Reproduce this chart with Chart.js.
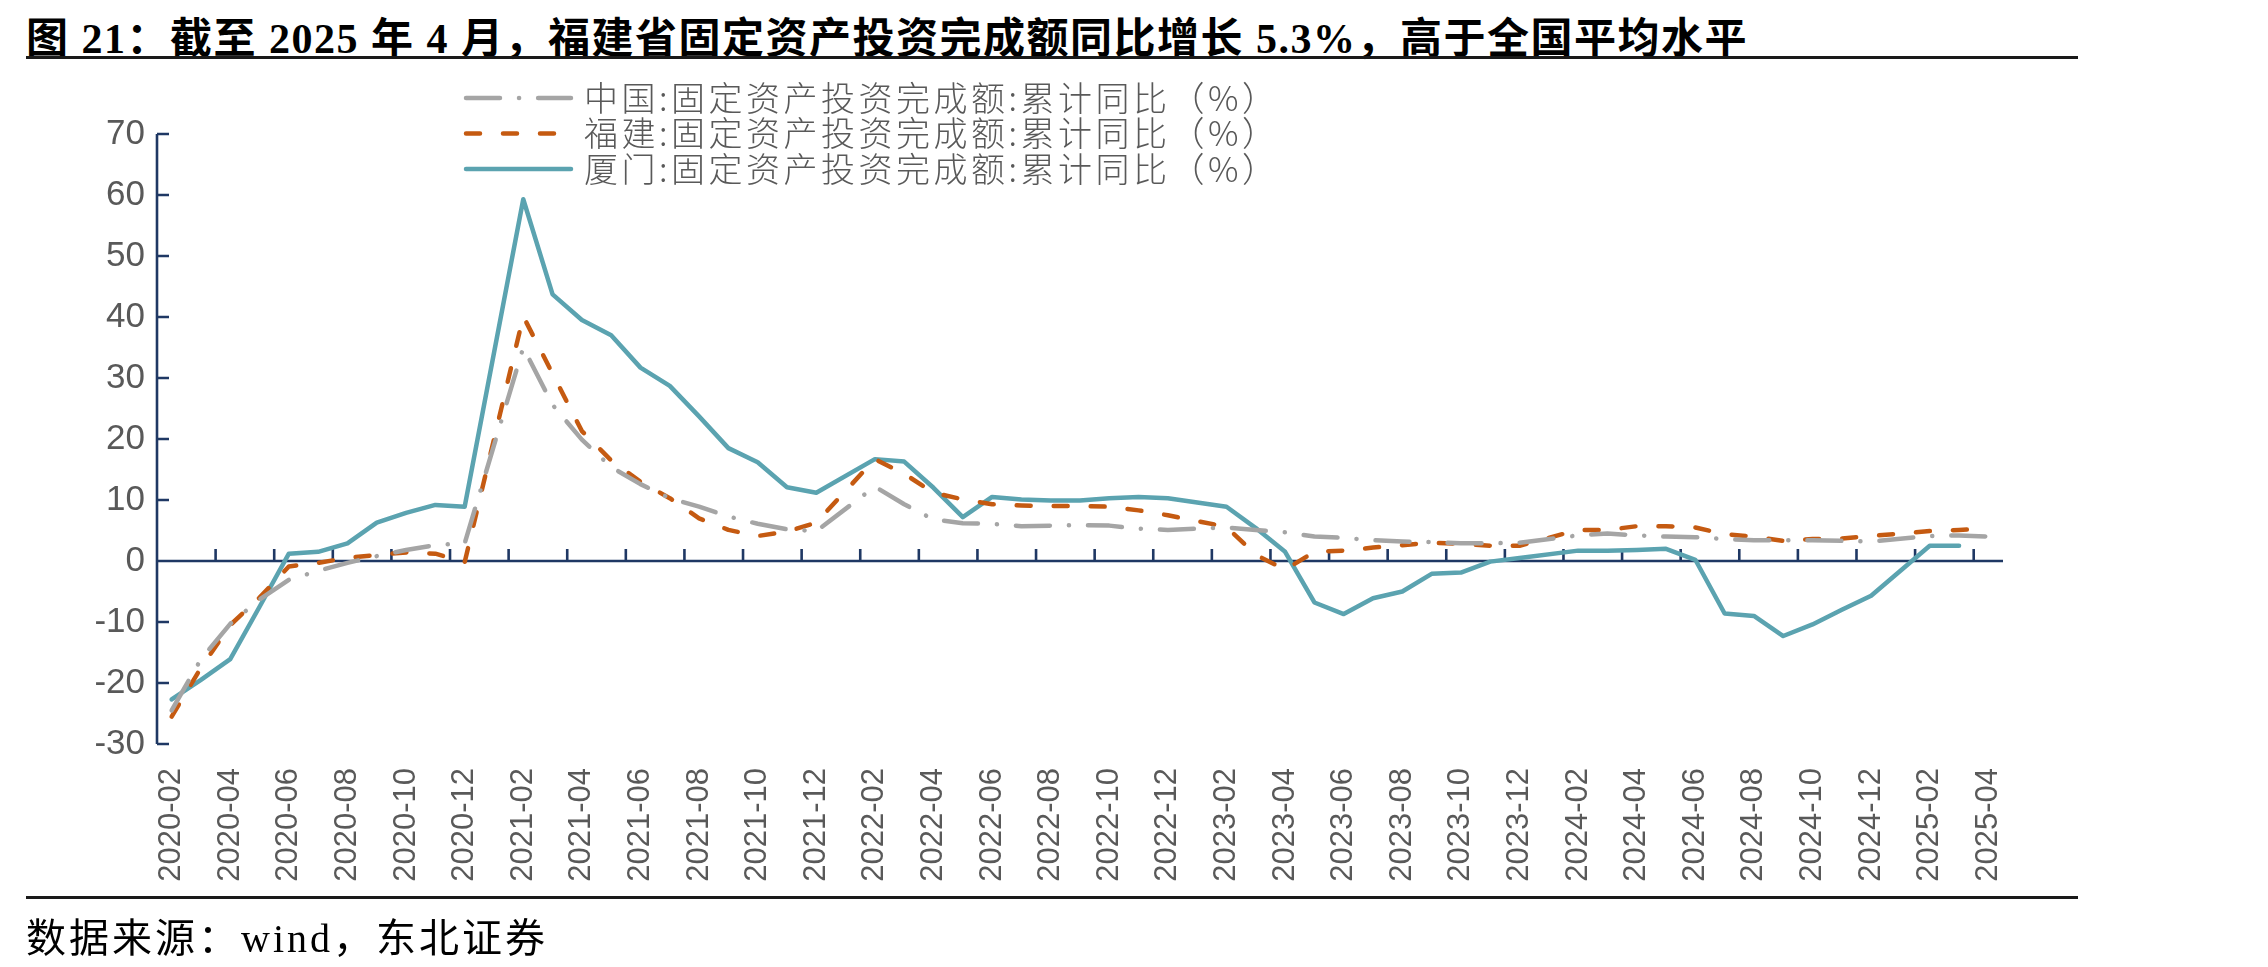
<!DOCTYPE html>
<html>
<head>
<meta charset="utf-8">
<script src="https://cdn.jsdelivr.net/npm/chart.js@4.4.1/dist/chart.umd.min.js"></script>
<style>
  body { margin: 0; width: 2268px; height: 967px; position: relative; background: #fff; overflow: hidden; }
  #title { position: absolute; left: 26px; top: 4px; font: bold 42px "Liberation Serif", "Noto Sans CJK SC"; letter-spacing: 1.5px; color: #000; white-space: nowrap; }
  .rule { position: absolute; left: 26px; width: 2052px; height: 3px; background: #1a1a1a; }
  #wrap { position: absolute; left: 0; top: 0; width: 2268px; height: 967px; }
  #source { position: absolute; left: 26px; top: 906px; font: 40px "Liberation Serif", "Noto Sans CJK SC"; letter-spacing: 3px; color: #000; white-space: nowrap; }
</style>
</head>
<body>
<div id="title">图 21：截至 2025 年 4 月，福建省固定资产投资完成额同比增长 5.3%，高于全国平均水平</div>
<div class="rule" style="top:56px"></div>
<div id="wrap"><canvas id="chartCanvas"></canvas></div>
<div class="rule" style="top:896px"></div>
<div id="source">数据来源：wind，东北证券</div>

<script>
// months, January is missing in the source data (null)
const months = [
  "2020-02","2020-03","2020-04","2020-05","2020-06","2020-07","2020-08","2020-09","2020-10","2020-11","2020-12",
  "2021-01","2021-02","2021-03","2021-04","2021-05","2021-06","2021-07","2021-08","2021-09","2021-10","2021-11","2021-12",
  "2022-01","2022-02","2022-03","2022-04","2022-05","2022-06","2022-07","2022-08","2022-09","2022-10","2022-11","2022-12",
  "2023-01","2023-02","2023-03","2023-04","2023-05","2023-06","2023-07","2023-08","2023-09","2023-10","2023-11","2023-12",
  "2024-01","2024-02","2024-03","2024-04","2024-05","2024-06","2024-07","2024-08","2024-09","2024-10","2024-11","2024-12",
  "2025-01","2025-02","2025-03","2025-04"
];

const china = [
  -24.5, -16.1, -10.3, -6.3, -3.1, -1.6, -0.3, 0.8, 1.8, 2.6, 2.9,
  null, 35.0, 25.6, 19.9, 15.4, 12.6, 10.3, 8.9, 7.3, 6.1, 5.2, 4.9,
  null, 12.2, 9.3, 6.8, 6.2, 6.1, 5.7, 5.8, 5.9, 5.8, 5.3, 5.1,
  null, 5.5, 5.1, 4.7, 4.0, 3.8, 3.4, 3.2, 3.1, 2.9, 2.9, 3.0,
  null, 4.2, 4.5, 4.2, 4.0, 3.9, 3.6, 3.4, 3.4, 3.4, 3.3, 3.2,
  null, 4.1, 4.2, 4.0
];

const fujian = [
  -25.5, -17.5, -10.5, -6.0, -0.9, -0.3, 0.5, 1.0, 1.4, 1.2, -0.2,
  null, 40.1, 30.7, 21.3, 16.5, 13.0, 10.3, 7.0, 5.1, 4.1, 4.8, 6.3,
  null, 16.7, 14.3, 11.2, 10.1, 9.3, 9.1, 9.0, 9.0, 8.9, 8.3, 7.5,
  null, 5.6, 1.0, -1.4, 1.5, 1.7, 2.2, 2.6, 3.0, 2.8, 2.5, 2.5,
  null, 5.1, 5.1, 5.7, 5.7, 5.5, 4.4, 4.0, 3.3, 3.6, 3.7, 4.1,
  null, 4.9, 5.1, 5.3
];

const xiamen = [
  -22.7, -19.5, -16.1, -7.5, 1.2, 1.5, 2.9, 6.3, 7.9, 9.2, 8.9,
  null, 59.3, 43.7, 39.5, 37.0, 31.7, 28.7, 23.7, 18.5, 16.2, 12.1, 11.2,
  null, 16.7, 16.3, 12.0, 7.2, 10.5, 10.1, 9.9, 9.9, 10.3, 10.5, 10.3,
  null, 8.9, 5.4, 1.5, -6.8, -8.7, -6.1, -5.0, -2.1, -1.9, -0.1, 0.5,
  null, 1.7, 1.7, 1.8, 2.0, 0.2, -8.6, -9.0, -12.3, -10.4, -8.0, -5.7,
  null, 2.5, 2.5, null
];

const seriesNames = [
  "中国:固定资产投资完成额:累计同比（%）",
  "福建:固定资产投资完成额:累计同比（%）",
  "厦门:固定资产投资完成额:累计同比（%）"
];

const yMin = -30, yMax = 70, yStep = 10;

const axisColor = "#1f3864";
const labelColor = "#595959";

// axis line at zero with tick marks pointing inwards (like the excel chart)
const axisDecor = {
  id: "axisDecor",
  beforeDatasetsDraw(chart) {
    const { ctx, chartArea: a, scales: { x, y } } = chart;
    ctx.save();
    ctx.strokeStyle = axisColor;
    ctx.lineWidth = 2.6;
    ctx.beginPath();
    ctx.moveTo(a.left, y.getPixelForValue(yMax));
    ctx.lineTo(a.left, y.getPixelForValue(yMin));
    y.ticks.forEach(t => {
      const py = y.getPixelForValue(t.value);
      ctx.moveTo(a.left, py);
      ctx.lineTo(a.left + 12, py);
    });
    const y0 = y.getPixelForValue(0);
    ctx.moveTo(a.left, y0);
    ctx.lineTo(a.right, y0);
    for (let i = 2; i < months.length; i += 2) {
      const px = x.getPixelForValue(i - 0.5);
      ctx.moveTo(px, y0);
      ctx.lineTo(px, y0 - 12);
    }
    ctx.stroke();
    ctx.restore();
  }
};

// legend drawn inside the plot, three rows
const rowLegend = {
  id: "rowLegend",
  afterDraw(chart) {
    const ctx = chart.ctx;
    chart.data.datasets.forEach((ds, k) => {
      const yy = 98 + k * 35.5;
      ctx.save();
      ctx.strokeStyle = ds.borderColor;
      ctx.lineWidth = ds.borderWidth;
      ctx.lineCap = ds.borderCapStyle || "butt";
      ctx.setLineDash(ds.borderDash || []);
      ctx.beginPath();
      ctx.moveTo(466, yy);
      ctx.lineTo(571, yy);
      ctx.stroke();
      ctx.setLineDash([]);
      ctx.fillStyle = labelColor;
      ctx.font = '300 34px "Noto Sans CJK SC"';
      ctx.letterSpacing = "3.5px";
      ctx.textBaseline = "middle";
      ctx.fillText(ds.label, 584, yy);
      ctx.restore();
    });
  }
};

new Chart(document.getElementById("chartCanvas"), {
  type: "line",
  data: {
    labels: months,
    datasets: [
      { label: seriesNames[0], data: china, borderColor: "#a5a5a5", borderWidth: 4.5,
        borderDash: [34, 19, 0.1, 19], borderCapStyle: "round" },
      { label: seriesNames[1], data: fujian, borderColor: "#c55a11", borderWidth: 4.5,
        borderDash: [14, 23], borderCapStyle: "round" },
      { label: seriesNames[2], data: xiamen, borderColor: "#5ba3b0", borderWidth: 4.5,
        borderCapStyle: "round" }
    ]
  },
  options: {
    responsive: true,
    maintainAspectRatio: false,
    animation: false,
    devicePixelRatio: 1,
    spanGaps: true,
    elements: { point: { radius: 0 }, line: { tension: 0, borderJoinStyle: "round" } },
    layout: { padding: { left: 80, top: 134, right: 265, bottom: 0 } },
    plugins: { legend: { display: false }, tooltip: { enabled: false } },
    scales: {
      x: {
        offset: true,
        grid: { display: false, drawTicks: false },
        border: { display: false },
        afterFit(scale) { scale.height = 223; },
        ticks: {
          autoSkip: false,
          minRotation: 90,
          maxRotation: 90,
          padding: 24,
          color: labelColor,
          font: { family: '"Liberation Sans", Arial', size: 31 },
          callback(value, index) { return index % 2 === 0 ? this.getLabelForValue(value) : null; }
        }
      },
      y: {
        min: yMin,
        max: yMax,
        grid: { display: false, drawTicks: false },
        border: { display: false },
        afterFit(scale) { scale.width = 77; },
        ticks: {
          stepSize: yStep,
          padding: 12,
          color: labelColor,
          font: { family: '"Liberation Sans", Arial', size: 35 }
        }
      }
    }
  },
  plugins: [axisDecor, rowLegend]
});
</script>
</body>
</html>
